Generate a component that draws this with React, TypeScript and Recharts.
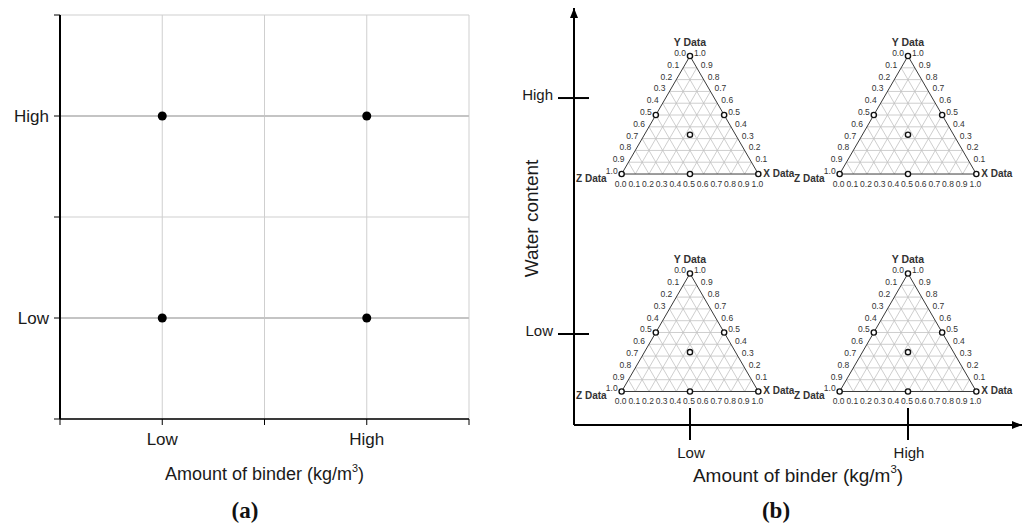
import React from "react";
import {
  CartesianGrid,
  ReferenceLine,
  Scatter,
  ScatterChart,
  XAxis,
  YAxis,
  ZAxis,
} from "recharts";

const FONT = '"Liberation Sans", Arial, sans-serif';
const INK = "#1a1a1a";

// factor levels, shared by both panels
const levelAt: Record<string, number> = { Low: 1, High: 3 };
const axisTicks = [0, 1, 2, 3, 4];
const axisTickLabels = ["", "Low", "", "High", ""];

// 2x2 full factorial runs (binder, water)
const runBinder = ["Low", "Low", "High", "High"];
const runWater = ["Low", "High", "Low", "High"];

// simplex-centroid mixture points (X, Y, Z fractions)
const mixX = [1, 0, 0, 0.5, 0.5, 0, 0.333];
const mixY = [0, 1, 0, 0.5, 0, 0.5, 0.333];
const mixZ = [0, 0, 1, 0, 0.5, 0.5, 0.333];

const ternTicks = [0, 0.1, 0.2, 0.3, 0.4, 0.5, 0.6, 0.7, 0.8, 0.9, 1];
const ternTickLabels = ["0.0", "0.1", "0.2", "0.3", "0.4", "0.5", "0.6", "0.7", "0.8", "0.9", "1.0"];
const cornerNames = { x: "X Data", y: "Y Data", z: "Z Data" };

const binderTitle = "Amount of binder (kg/m";
const waterTitle = "Water content";

// panel (b) layout in axis units
const B_X_DOMAIN: [number, number] = [-0.064, 4.046];
const B_Y_DOMAIN: [number, number] = [0.229, 3.763];
const TRI_HALF = 0.627;
const TRI_H = 1.0;
const triBase: Record<string, number> = { Low: 0.513, High: 2.356 };

type Pt = { x: number; y: number };

function ternary(binder: string, water: string) {
  const cx = levelAt[binder];
  const by = triBase[water];
  return (X: number, Y: number, Z: number): Pt => {
    const s = X + Y + Z;
    return {
      x: ((Z * (cx - TRI_HALF)) + X * (cx + TRI_HALF) + Y * cx) / s,
      y: by + (Y / s) * TRI_H,
    };
  };
}

const grid: { a: Pt; b: Pt }[] = [];
const edges: { a: Pt; b: Pt }[] = [];
const labels: (Pt & { text: string; kind: string })[] = [];
const markers: Pt[] = [];

runBinder.forEach((b, r) => {
  const t = ternary(b, runWater[r]);
  ternTicks.slice(1, -1).forEach((v) => {
    grid.push({ a: t(0, v, 1 - v), b: t(1 - v, v, 0) });
    grid.push({ a: t(v, 0, 1 - v), b: t(v, 1 - v, 0) });
    grid.push({ a: t(1 - v, 0, v), b: t(0, 1 - v, v) });
  });
  edges.push({ a: t(0, 0, 1), b: t(1, 0, 0) });
  edges.push({ a: t(1, 0, 0), b: t(0, 1, 0) });
  edges.push({ a: t(0, 1, 0), b: t(0, 0, 1) });
  ternTicks.forEach((v, i) => {
    labels.push({ ...t(0, 1 - v, v), text: ternTickLabels[i], kind: "left" });
    labels.push({ ...t(v, 0, 1 - v), text: ternTickLabels[i], kind: "bottom" });
    if (i > 0) labels.push({ ...t(1 - v, v, 0), text: ternTickLabels[i], kind: "right" });
  });
  labels.push({ ...t(0, 1, 0), text: cornerNames.y, kind: "yname" });
  labels.push({ ...t(1, 0, 0), text: cornerNames.x, kind: "xname" });
  labels.push({ ...t(0, 0, 1), text: cornerNames.z, kind: "zname" });
  mixX.forEach((x, i) => markers.push(t(x, mixY[i], mixZ[i])));
});

const LBL: Record<string, { anchor: string; dx: number; dy: number; size: number; bold?: boolean }> = {
  left: { anchor: "end", dx: -4, dy: -3, size: 8.5 },
  right: { anchor: "start", dx: 4, dy: -3, size: 8.5 },
  bottom: { anchor: "middle", dx: -1, dy: 10, size: 8.5 },
  yname: { anchor: "middle", dx: 0, dy: -14, size: 10.5, bold: true },
  xname: { anchor: "start", dx: 5, dy: -1, size: 10, bold: true },
  zname: { anchor: "end", dx: -15, dy: 4, size: 10, bold: true },
};

function TernLabel(p: any) {
  const d = p.payload;
  const s = LBL[d.kind];
  return (
    <text
      x={p.cx + s.dx}
      y={p.cy + s.dy}
      textAnchor={s.anchor}
      dominantBaseline="central"
      fontSize={s.size}
      fontWeight={s.bold ? 700 : 400}
      fontFamily={FONT}
      fill="#333"
    >
      {d.text}
    </text>
  );
}

function OpenDot(p: any) {
  return <circle cx={p.cx} cy={p.cy} r={2.6} fill="#fff" stroke="#111" strokeWidth={1.4} />;
}

function Arrow(p: any) {
  const { cx, cy } = p;
  const pts =
    p.payload.dir === "right"
      ? `${cx},${cy} ${cx - 10},${cy - 4} ${cx - 10},${cy + 4}`
      : `${cx},${cy} ${cx - 4},${cy + 10} ${cx + 4},${cy + 10}`;
  return <polygon points={pts} fill="#000" />;
}

const arrows = [
  { x: B_X_DOMAIN[1], y: B_Y_DOMAIN[0], dir: "right" },
  { x: B_X_DOMAIN[0], y: B_Y_DOMAIN[1], dir: "up" },
];

function BTickX(p: any) {
  const { x, y, payload } = p;
  return (
    <g>
      <line x1={x} x2={x} y1={y - 17} y2={y + 15} stroke="#000" strokeWidth={2} />
      <text x={x + 1} y={y + 33} textAnchor="middle" fontSize={15} fontFamily={FONT} fill={INK}>
        {axisTickLabels[payload.value]}
      </text>
    </g>
  );
}

function BTickY(p: any) {
  const { x, y, payload } = p;
  return (
    <g>
      <line x1={x - 16} x2={x + 15} y1={y} y2={y} stroke="#000" strokeWidth={2} />
      <text x={x - 21} y={y - 3} dy="0.35em" textAnchor="end" fontSize={15} fontFamily={FONT} fill={INK}>
        {axisTickLabels[payload.value]}
      </text>
    </g>
  );
}

function binderLabel(size: number, offset: number) {
  return (props: any) => {
    const vb = props.viewBox;
    return (
      <text
        x={vb.x + vb.width / 2}
        y={vb.y + offset}
        textAnchor="middle"
        fontSize={size}
        fontFamily={FONT}
        fill={INK}
      >
        {binderTitle}
        <tspan dy={-size * 0.45} fontSize={size * 0.6}>3</tspan>
        <tspan dy={size * 0.45}>)</tspan>
      </text>
    );
  };
}

function WaterLabel(props: any) {
  const vb = props.viewBox;
  const cx = vb.x + 31;
  const cy = vb.y + vb.height / 2 + 2;
  return (
    <text
      x={cx}
      y={cy}
      transform={`rotate(-90, ${cx}, ${cy})`}
      textAnchor="middle"
      dominantBaseline="central"
      fontSize={19}
      fontFamily={FONT}
      fill={INK}
    >
      {waterTitle}
    </text>
  );
}

const runs = runBinder.map((b, i) => ({ x: levelAt[b], y: levelAt[runWater[i]] }));

const panelTag: React.CSSProperties = {
  position: "absolute",
  top: 498,
  width: 60,
  textAlign: "center",
  fontFamily: '"Liberation Serif", "DejaVu Serif", serif',
  fontWeight: 700,
  fontSize: 23,
  color: "#111",
};

export default function App() {
  return (
    <div style={{ position: "absolute", left: 0, top: 0, width: 1035, height: 529, background: "#fff" }}>
      <div style={{ position: "absolute", left: 0, top: 0 }}>
        <ScatterChart width={480} height={529} margin={{ top: 15, right: 11, bottom: 50, left: 0 }}>
          <CartesianGrid stroke="#cfcfcf" />
          <XAxis
            type="number"
            dataKey="x"
            domain={[0, 4]}
            ticks={axisTicks}
            tickFormatter={(v) => axisTickLabels[v]}
            height={60}
            tickSize={6}
            tickMargin={8}
            tick={{ fontSize: 17, fill: INK, fontFamily: FONT }}
            tickLine={{ stroke: "#000" }}
            axisLine={{ stroke: "#000", strokeWidth: 1.5 }}
            label={{ content: binderLabel(18, 61) }}
          />
          <YAxis
            type="number"
            dataKey="y"
            domain={[0, 4]}
            ticks={axisTicks}
            tickFormatter={(v) => axisTickLabels[v]}
            width={60}
            tickSize={6}
            tickMargin={5}
            tick={{ fontSize: 17, fill: INK, fontFamily: FONT }}
            tickLine={{ stroke: "#000" }}
            axisLine={{ stroke: "#000", strokeWidth: 2 }}
          />
          <ZAxis range={[72, 72]} />
          <ReferenceLine y={levelAt.Low} stroke="#c4c4c4" strokeWidth={2} />
          <ReferenceLine y={levelAt.High} stroke="#c4c4c4" strokeWidth={2} />
          <Scatter data={runs} fill="#000" isAnimationActive={false} />
        </ScatterChart>
      </div>

      <div style={{ position: "absolute", left: 500, top: 0 }}>
        <ScatterChart width={535} height={529} margin={{ top: 8, right: 13, bottom: 50, left: 0 }}>
          <XAxis
            type="number"
            dataKey="x"
            domain={B_X_DOMAIN}
            ticks={[levelAt.Low, levelAt.High]}
            height={54}
            tickSize={0}
            tickMargin={0}
            tick={BTickX}
            tickLine={false}
            axisLine={{ stroke: "#000", strokeWidth: 2 }}
            label={{ content: binderLabel(19, 57) }}
          />
          <YAxis
            type="number"
            dataKey="y"
            domain={B_Y_DOMAIN}
            ticks={[levelAt.Low, levelAt.High]}
            width={74}
            tickSize={0}
            tickMargin={0}
            tick={BTickY}
            tickLine={false}
            axisLine={{ stroke: "#000", strokeWidth: 2 }}
            label={{ content: WaterLabel }}
          />
          {grid.map((s, i) => (
            <ReferenceLine key={`g${i}`} segment={[s.a, s.b]} stroke="#c2c2c2" strokeWidth={0.8} />
          ))}
          {edges.map((s, i) => (
            <ReferenceLine key={`e${i}`} segment={[s.a, s.b]} stroke="#3a3a3a" strokeWidth={1} />
          ))}
          <Scatter data={markers} shape={OpenDot} isAnimationActive={false} />
          <Scatter data={labels} shape={TernLabel} isAnimationActive={false} />
          <Scatter data={arrows} shape={Arrow} isAnimationActive={false} />
        </ScatterChart>
      </div>

      <div style={{ ...panelTag, left: 215 }}>(a)</div>
      <div style={{ ...panelTag, left: 746 }}>(b)</div>
    </div>
  );
}
